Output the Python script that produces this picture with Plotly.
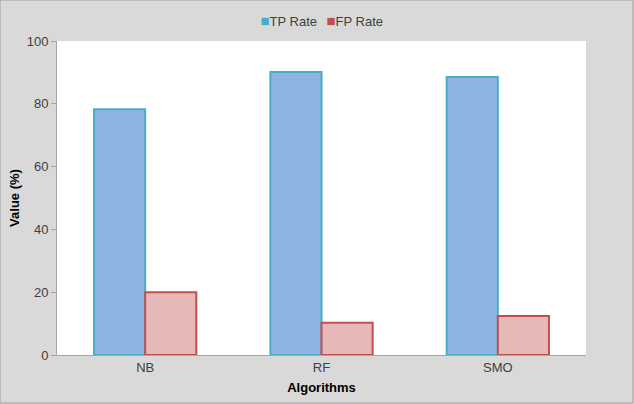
import plotly.graph_objects as go

categories = ["NB", "RF", "SMO"]
tp_rate = [78.3, 90.1, 88.5]
fp_rate = [20.0, 10.3, 12.4]

hidden = dict(size=0, color="rgba(0,0,0,0)", line=dict(width=0))

fig = go.Figure()
fig.add_trace(go.Bar(name="TP Rate", x=categories, y=tp_rate, showlegend=False,
                     marker=dict(color="#8eb4e3", line=dict(color="#4bacc6", width=2))))
fig.add_trace(go.Bar(name="FP Rate", x=categories, y=fp_rate, showlegend=False,
                     marker=dict(color="#e6b9b8", line=dict(color="#c0504d", width=2))))
# legend-only entries; the small square key is part of the label text
fig.add_trace(go.Scatter(name="<span style='color:#4bacc6;font-size:15px'>■</span>TP Rate",
                         x=[None], y=[None], mode="markers", marker=hidden))
fig.add_trace(go.Scatter(name="<span style='color:#c0504d;font-size:15px'>■</span>FP Rate",
                         x=[None], y=[None], mode="markers", marker=hidden))
# empty spacer entry so the last label is not clipped
fig.add_trace(go.Scatter(name=" ", x=[None], y=[None], mode="markers", marker=hidden))

fig.update_layout(
    width=634, height=404,
    margin=dict(l=57, r=48, t=41, b=49, autoexpand=False),
    paper_bgcolor="#d9d9d9", plot_bgcolor="white",
    font=dict(family="Liberation Sans, Arial, sans-serif", size=13, color="#404040"),
    barmode="group", bargap=0.42, bargroupgap=0,
    showlegend=True,
    legend=dict(orientation="h", x=(220.5 - 57) / 529, xanchor="left", y=1 + 20/314, yanchor="middle",
                font=dict(size=13, color="#404040"), bgcolor="rgba(0,0,0,0)",
                itemwidth=30, entrywidth=21, tracegroupgap=0, traceorder="normal"),
    xaxis=dict(showline=True, linecolor="#a6a6a6", linewidth=1, ticks="",
               title=dict(text="<b>Algorithms</b>", font=dict(size=13, color="#000"), standoff=9),
               tickfont=dict(size=13, color="#404040")),
    yaxis=dict(range=[0, 100], dtick=20, showgrid=False, zeroline=False,
               showline=True, linecolor="#a6a6a6", linewidth=1,
               ticks="outside", ticklen=5, tickcolor="#a6a6a6",
               title=dict(text="<b>Value (%)</b>", font=dict(size=13, color="#000"), standoff=4),
               tickfont=dict(size=13, color="#404040")),
    shapes=[dict(type="rect", xref="paper", yref="paper",
                 x0=-57/529, x1=1+47/529, y0=-48/314, y1=1+41/314,
                 line=dict(color="#a0a0a0", width=1), fillcolor="rgba(0,0,0,0)", layer="below")],
)

fig.write_html("out.html", config={"displayModeBar": False},
               post_script="document.body.style.margin='0';")
